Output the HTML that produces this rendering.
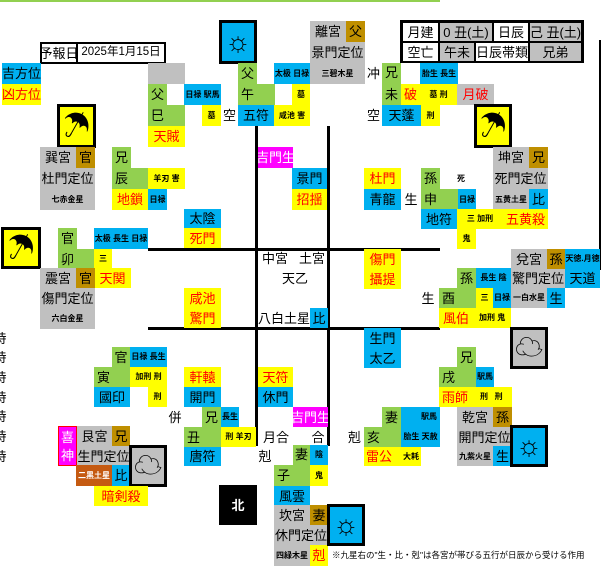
<!DOCTYPE html>
<html><head><meta charset="utf-8"><style>
body{margin:0;width:601px;height:585px;position:relative;background:#fff;overflow:hidden;font-family:"Liberation Sans","Noto Sans CJK JP",sans-serif;}
div{position:absolute;box-sizing:border-box;}
.b{display:flex;align-items:center;justify-content:center;font-size:13px;line-height:1;color:#000;white-space:nowrap;overflow:hidden}
.s{font-size:8px;font-weight:bold}
.m{font-size:10px}
.r{color:#f00}
.g{background:#c0c0c0}.G{background:#92d050}.B{background:#00b0f0}.Y{background:#ffff00}.O{background:#bf8f00}.M{background:#ff00ff;color:#fff}
.L{background:#000}
.bx{border:3px solid #000}
.ic{font-size:28px;color:#000}
</style></head><body>
<div style="left:0;top:0;width:440px;height:2px;background:#92d050"></div>
<div style="left:599px;top:40px;width:2px;height:230px;background:#000"></div>

<div class="b" style="left:40px;top:42px;width:37px;height:22px;border:2px solid #000;border-right:1px solid #000">予報日</div>
<div class="b" style="left:76px;top:42px;width:90px;height:22px;border:2px solid #000;font-size:11.5px">2025年1月15日</div>
<div class="b B" style="left:2px;top:63px;width:39px;height:21px">吉方位</div>
<div class="b Y r" style="left:2px;top:84px;width:39px;height:21px">凶方位</div>

<div style="left:400px;top:20px;width:184px;height:43px;background:#000"></div>
<div class="b" style="left:403px;top:23px;width:35px;height:18px;background:#fff">月建</div>
<div class="b g" style="left:440px;top:23px;width:52px;height:18px">0 丑(土)</div>
<div class="b" style="left:494px;top:23px;width:34px;height:18px;background:#fff">日辰</div>
<div class="b g" style="left:530px;top:23px;width:51px;height:18px">己 丑(土)</div>
<div class="b" style="left:403px;top:43px;width:35px;height:18px;background:#fff">空亡</div>
<div class="b g" style="left:440px;top:43px;width:34px;height:18px">午未</div>
<div class="b" style="left:476px;top:43px;width:52px;height:18px;background:#fff">日辰帯類</div>
<div class="b g" style="left:530px;top:43px;width:51px;height:18px">兄弟</div>

<div class="L" style="left:255px;top:126px;width:3px;height:320px"></div>
<div class="L" style="left:327px;top:126px;width:3px;height:320px"></div>
<div class="L" style="left:148px;top:248px;width:292px;height:3px"></div>
<div class="L" style="left:148px;top:327px;width:292px;height:3px"></div>

<div class="g" style="left:148px;top:63px;width:37px;height:21px"></div>
<div class="b G" style="left:148px;top:84px;width:19px;height:21px">父</div>
<div class="b B s" style="left:184px;top:84px;width:37px;height:21px">日禄 駅馬</div>
<div class="b G" style="left:148px;top:105px;width:37px;height:21px;justify-content:flex-start;padding-left:3px">巳</div>
<div class="b Y s" style="left:202px;top:105px;width:19px;height:21px">墓</div>
<div class="b" style="left:221px;top:105px;width:17px;height:21px">空</div>
<div class="b Y r" style="left:148px;top:126px;width:37px;height:21px">天賊</div>

<div class="b B bx ic" style="left:219px;top:20px;width:38px;height:44px">☼</div>
<div class="b G" style="left:238px;top:63px;width:19px;height:21px">父</div>
<div class="b G" style="left:238px;top:84px;width:37px;height:21px;justify-content:flex-start;padding-left:3px">午</div>
<div class="b B" style="left:238px;top:105px;width:36px;height:21px">五符</div>
<div class="b B s" style="left:274px;top:63px;width:36px;height:21px">太极 日禄</div>
<div class="b Y s" style="left:292px;top:84px;width:18px;height:21px">墓</div>
<div class="b Y s" style="left:274px;top:105px;width:36px;height:21px">咸池 害</div>
<div class="g" style="left:310px;top:21px;width:55px;height:63px"></div>
<div class="b" style="left:310px;top:21px;width:36px;height:21px">離宮</div>
<div class="b O" style="left:346px;top:21px;width:19px;height:21px">父</div>
<div class="b" style="left:310px;top:42px;width:55px;height:21px">景門定位</div>
<div class="b s" style="left:310px;top:63px;width:55px;height:21px">三碧木星</div>

<div class="b" style="left:365px;top:63px;width:17px;height:21px">冲</div>
<div class="b G" style="left:382px;top:63px;width:19px;height:42px;align-items:flex-start;padding-top:3px">兄</div>
<div class="b G" style="left:382px;top:84px;width:19px;height:21px">未</div>
<div class="b Y r" style="left:401px;top:84px;width:19px;height:21px">破</div>
<div class="b Y s" style="left:420px;top:84px;width:37px;height:21px">墓 刑</div>
<div class="b B s" style="left:420px;top:63px;width:38px;height:21px">胎生 長生</div>
<div class="b g r" style="left:457px;top:84px;width:37px;height:21px">月破</div>
<div class="b" style="left:365px;top:105px;width:17px;height:21px">空</div>
<div class="b B" style="left:382px;top:105px;width:39px;height:21px">天蓬</div>
<div class="b Y s" style="left:421px;top:105px;width:19px;height:21px">刑</div>
<div class="b Y bx ic" style="left:474px;top:104px;width:38px;height:44px">☂</div>

<div class="g" style="left:493px;top:147px;width:55px;height:63px"></div>
<div class="b" style="left:493px;top:147px;width:36px;height:21px">坤宮</div>
<div class="b O" style="left:529px;top:147px;width:19px;height:21px">兄</div>
<div class="b" style="left:493px;top:168px;width:55px;height:21px">死門定位</div>
<div class="b s" style="left:493px;top:189px;width:36px;height:21px">五黄土星</div>
<div class="b B" style="left:529px;top:189px;width:19px;height:21px">比</div>

<div class="b Y r" style="left:364px;top:168px;width:37px;height:21px">杜門</div>
<div class="b B" style="left:364px;top:189px;width:37px;height:21px">青龍</div>
<div class="b" style="left:401px;top:189px;width:20px;height:21px">生</div>
<div class="b G" style="left:421px;top:168px;width:19px;height:21px">孫</div>
<div class="b s" style="left:455px;top:168px;width:12px;height:21px">死</div>
<div class="b G" style="left:421px;top:189px;width:37px;height:21px;justify-content:flex-start;padding-left:3px">申</div>
<div class="b B s" style="left:458px;top:189px;width:18px;height:21px">日禄</div>
<div class="b B" style="left:421px;top:209px;width:36px;height:20px">地符</div>
<div class="b Y s" style="left:457px;top:209px;width:46px;height:20px">三 加刑</div>
<div class="b Y r" style="left:503px;top:209px;width:45px;height:20px">五黄殺</div>
<div class="b Y s" style="left:457px;top:229px;width:19px;height:20px">鬼</div>

<div class="b M" style="left:258px;top:147px;width:35px;height:21px">吉門生</div>
<div class="b B" style="left:292px;top:168px;width:35px;height:21px">景門</div>
<div class="b Y r" style="left:292px;top:189px;width:35px;height:21px">招揺</div>

<div class="b Y bx ic" style="left:57px;top:104px;width:39px;height:44px">☂</div>
<div class="g" style="left:40px;top:147px;width:55px;height:63px"></div>
<div class="b" style="left:40px;top:147px;width:36px;height:21px">巽宮</div>
<div class="b O" style="left:76px;top:147px;width:19px;height:21px">官</div>
<div class="b" style="left:40px;top:168px;width:55px;height:21px">杜門定位</div>
<div class="b s" style="left:40px;top:189px;width:55px;height:21px">七赤金星</div>
<div class="b G" style="left:112px;top:147px;width:19px;height:21px">兄</div>
<div class="b G" style="left:112px;top:168px;width:36px;height:21px;justify-content:flex-start;padding-left:3px">辰</div>
<div class="b Y s" style="left:148px;top:168px;width:37px;height:21px">羊刃 害</div>
<div class="b Y r" style="left:112px;top:189px;width:36px;height:21px">地鎖</div>
<div class="b B s" style="left:148px;top:189px;width:19px;height:21px">日禄</div>
<div class="b B" style="left:184px;top:209px;width:37px;height:19px">太陰</div>
<div class="b Y r" style="left:184px;top:228px;width:37px;height:20px">死門</div>

<div class="b Y bx ic" style="left:1px;top:227px;width:40px;height:42px;transform-origin:center">☂</div>
<div class="b G" style="left:58px;top:228px;width:19px;height:21px">官</div>
<div class="b G" style="left:58px;top:249px;width:36px;height:20px;justify-content:flex-start;padding-left:3px">卯</div>
<div class="b B s" style="left:94px;top:228px;width:54px;height:21px">太极 長生 日禄</div>
<div class="b Y s" style="left:94px;top:249px;width:18px;height:20px">三</div>
<div class="b Y r" style="left:94px;top:268px;width:37px;height:20px">天関</div>
<div class="g" style="left:40px;top:268px;width:55px;height:61px"></div>
<div class="b" style="left:40px;top:268px;width:36px;height:20px">震宮</div>
<div class="b O" style="left:76px;top:268px;width:19px;height:20px">官</div>
<div class="b" style="left:40px;top:288px;width:55px;height:20px">傷門定位</div>
<div class="b s" style="left:40px;top:308px;width:55px;height:21px">六白金星</div>
<div class="b Y r" style="left:184px;top:288px;width:37px;height:20px">咸池</div>
<div class="b Y r" style="left:184px;top:308px;width:37px;height:20px">驚門</div>

<div class="b" style="left:260px;top:250px;width:30px;height:16px">中宮</div>
<div class="b" style="left:297px;top:250px;width:30px;height:16px">土宮</div>
<div class="b" style="left:278px;top:268px;width:34px;height:20px">天乙</div>
<div class="b" style="left:258px;top:308px;width:52px;height:20px">八白土星</div>
<div class="b B" style="left:310px;top:308px;width:18px;height:20px">比</div>

<div class="b Y r" style="left:364px;top:249px;width:37px;height:20px">傷門</div>
<div class="b Y r" style="left:364px;top:269px;width:37px;height:20px">攝提</div>
<div class="b G" style="left:457px;top:268px;width:19px;height:20px">孫</div>
<div class="b B s" style="left:476px;top:268px;width:35px;height:20px">長生 陰</div>
<div class="b" style="left:418px;top:288px;width:20px;height:20px">生</div>
<div class="b G" style="left:439px;top:288px;width:37px;height:20px;justify-content:flex-start;padding-left:3px">酉</div>
<div class="b Y s" style="left:476px;top:288px;width:17px;height:20px">三</div>
<div class="b B s" style="left:493px;top:288px;width:18px;height:20px">日禄</div>
<div class="b Y" style="left:439px;top:308px;width:72px;height:20px;justify-content:flex-start"><span class="r" style="padding-left:4px;width:36px">風伯</span><span class="s">加刑 鬼</span></div>
<div class="g" style="left:511px;top:249px;width:54px;height:59px"></div>
<div class="b" style="left:511px;top:249px;width:36px;height:20px">兌宮</div>
<div class="b O" style="left:547px;top:249px;width:18px;height:20px">孫</div>
<div class="b" style="left:511px;top:268px;width:54px;height:20px">驚門定位</div>
<div class="b s" style="left:511px;top:288px;width:36px;height:20px">一白水星</div>
<div class="b B" style="left:547px;top:288px;width:18px;height:20px">生</div>
<div class="b B s" style="left:565px;top:249px;width:35px;height:20px">天徳.月徳</div>
<div class="b B" style="left:565px;top:269px;width:35px;height:19px">天道</div>
<div class="b g bx ic" style="left:510px;top:327px;width:38px;height:42px">☁</div>
<div class="b B" style="left:364px;top:328px;width:37px;height:20px">生門</div>
<div class="b B" style="left:364px;top:348px;width:37px;height:20px">太乙</div>

<div class="b G" style="left:457px;top:347px;width:19px;height:20px">兄</div>
<div class="b G" style="left:439px;top:367px;width:37px;height:20px;justify-content:flex-start;padding-left:3px">戌</div>
<div class="b B s" style="left:476px;top:367px;width:18px;height:20px">駅馬</div>
<div class="b Y" style="left:439px;top:387px;width:73px;height:20px;justify-content:flex-start"><span class="r" style="padding-left:3px;width:38px">雨師</span><span class="s">刑&nbsp;&nbsp;&nbsp;刑</span></div>
<div class="g" style="left:457px;top:407px;width:55px;height:59px"></div>
<div class="b" style="left:457px;top:407px;width:36px;height:20px">乾宮</div>
<div class="b O" style="left:493px;top:407px;width:19px;height:20px">孫</div>
<div class="b" style="left:457px;top:427px;width:55px;height:20px">開門定位</div>
<div class="b s" style="left:457px;top:447px;width:36px;height:19px">九紫火星</div>
<div class="b B" style="left:493px;top:446px;width:19px;height:20px">生</div>
<div class="b B bx ic" style="left:510px;top:425px;width:38px;height:42px">☼</div>

<div class="b G" style="left:382px;top:407px;width:19px;height:20px">妻</div>
<div class="b" style="left:345px;top:427px;width:19px;height:20px">剋</div>
<div class="b G" style="left:364px;top:427px;width:37px;height:20px;justify-content:flex-start;padding-left:3px">亥</div>
<div class="b B s" style="left:401px;top:407px;width:39px;height:20px;justify-content:flex-end;padding-right:3px">駅馬</div>
<div class="b B s" style="left:401px;top:427px;width:39px;height:20px">胎生 天赦</div>
<div class="b Y" style="left:364px;top:447px;width:57px;height:19px;justify-content:flex-start"><span class="r" style="padding-left:2px;width:37px">雷公</span><span class="s">大耗</span></div>

<div class="b Y r" style="left:258px;top:367px;width:35px;height:20px">天符</div>
<div class="b B" style="left:258px;top:387px;width:35px;height:20px">休門</div>
<div class="b M" style="left:293px;top:407px;width:35px;height:20px">吉門生</div>
<div class="b" style="left:260px;top:427px;width:32px;height:20px">月合</div>
<div class="b" style="left:309px;top:427px;width:18px;height:20px">合</div>
<div class="b" style="left:256px;top:447px;width:18px;height:19px">剋</div>
<div class="b G" style="left:293px;top:445px;width:17px;height:41px;align-items:flex-start;padding-top:3px">妻</div>
<div class="b G" style="left:274px;top:465px;width:36px;height:21px;justify-content:flex-start;padding-left:3px">子</div>
<div class="b B s" style="left:310px;top:445px;width:18px;height:20px">陰</div>
<div class="b Y s" style="left:310px;top:465px;width:18px;height:21px">鬼</div>
<div class="b B" style="left:274px;top:486px;width:36px;height:20px">風雲</div>
<div class="g" style="left:274px;top:505px;width:54px;height:61px"></div>
<div class="b" style="left:274px;top:505px;width:36px;height:20px">坎宮</div>
<div class="b O" style="left:310px;top:505px;width:18px;height:20px">妻</div>
<div class="b" style="left:274px;top:525px;width:54px;height:20px">休門定位</div>
<div class="b s" style="left:274px;top:545px;width:36px;height:21px">四緑木星</div>
<div class="b Y r" style="left:310px;top:545px;width:18px;height:21px">剋</div>
<div class="b B bx ic" style="left:327px;top:504px;width:38px;height:42px">☼</div>
<div class="b s" style="left:332px;top:547px;width:270px;height:16px;justify-content:flex-start;font-weight:normal;font-size:8.5px">※九星右の"生・比・剋"は各宮が帯びる五行が日辰から受ける作用</div>
<div class="b" style="left:219px;top:485px;width:38px;height:40px;background:#000;color:#fff;font-weight:bold">北</div>

<div class="b Y r" style="left:184px;top:367px;width:37px;height:20px">軒轅</div>
<div class="b B" style="left:184px;top:387px;width:37px;height:20px">開門</div>
<div class="b" style="left:166px;top:407px;width:18px;height:20px">併</div>
<div class="b G" style="left:202px;top:407px;width:19px;height:20px">兄</div>
<div class="b B s" style="left:221px;top:407px;width:18px;height:20px">長生</div>
<div class="b G" style="left:184px;top:427px;width:37px;height:20px;justify-content:flex-start;padding-left:3px">丑</div>
<div class="b Y s" style="left:221px;top:427px;width:35px;height:20px">刑 羊刃</div>
<div class="b B" style="left:184px;top:447px;width:37px;height:19px">唐符</div>

<div class="b G" style="left:112px;top:347px;width:18px;height:20px">官</div>
<div class="b B s" style="left:130px;top:347px;width:37px;height:20px">日禄 長生</div>
<div class="b G" style="left:94px;top:367px;width:36px;height:20px;justify-content:flex-start;padding-left:3px">寅</div>
<div class="b Y s" style="left:130px;top:367px;width:37px;height:20px">加刑 刑</div>
<div class="b B" style="left:94px;top:387px;width:36px;height:20px">國印</div>
<div class="b Y s" style="left:148px;top:387px;width:19px;height:20px">刑</div>
<div class="b M" style="left:58px;top:426px;width:19px;height:40px;border:1px solid #f00;flex-direction:column;gap:5px"><span>喜</span><span>神</span></div>
<div class="g" style="left:77px;top:426px;width:53px;height:40px"></div>
<div class="b" style="left:77px;top:426px;width:35px;height:20px">艮宮</div>
<div class="b O" style="left:112px;top:426px;width:18px;height:20px">兄</div>
<div class="b" style="left:77px;top:446px;width:53px;height:20px">生門定位</div>
<div class="b s" style="left:76px;top:465px;width:36px;height:21px;background:#c55a11;color:#fff">二黒土星</div>
<div class="b B" style="left:112px;top:465px;width:18px;height:21px">比</div>
<div class="b g bx ic" style="left:129px;top:445px;width:38px;height:42px">☁</div>
<div class="b Y r" style="left:94px;top:486px;width:54px;height:20px">暗剣殺</div>

<div class="b" style="left:-8px;top:328px;width:16px;height:20px">時</div>
<div class="b" style="left:-8px;top:347px;width:16px;height:20px">時</div>
<div class="b" style="left:-8px;top:367px;width:16px;height:20px">時</div>
<div class="b" style="left:-8px;top:387px;width:16px;height:20px">時</div>
<div class="b" style="left:-8px;top:406px;width:16px;height:20px">時</div>
<div class="b" style="left:-8px;top:426px;width:16px;height:20px">時</div>
<div class="b" style="left:-8px;top:446px;width:16px;height:20px">時</div>
</body></html>
